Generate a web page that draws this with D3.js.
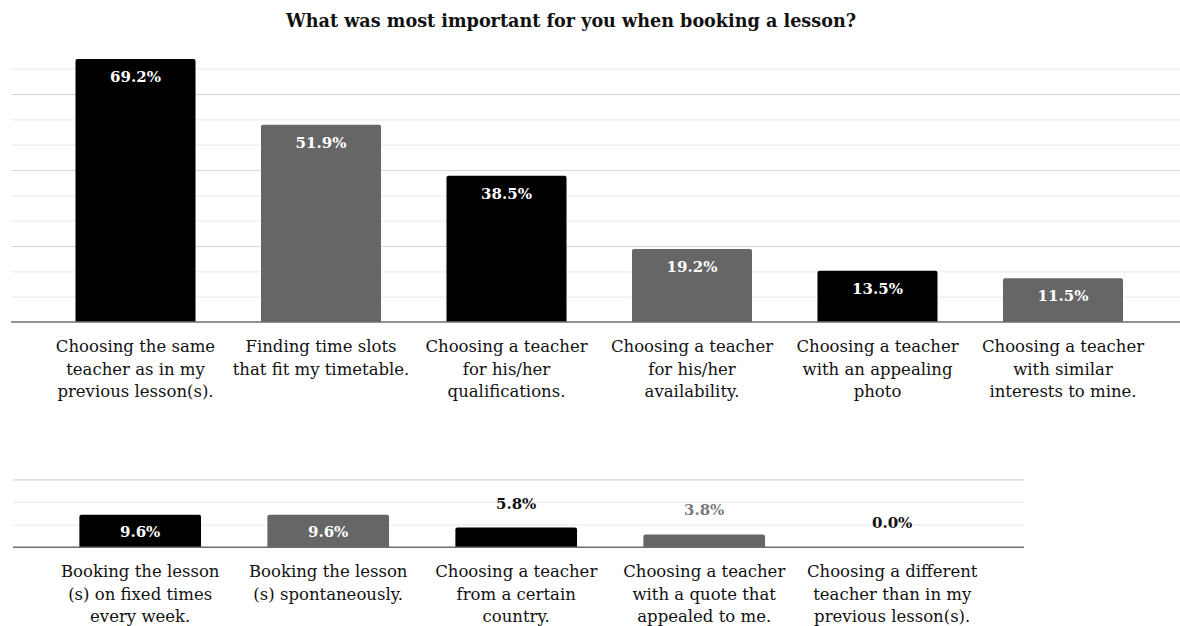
<!DOCTYPE html>
<html>
<head>
<meta charset="utf-8">
<script src="https://cdn.jsdelivr.net/npm/d3@7"></script>
<style>
  html, body { margin: 0; padding: 0; background: #fff; }
  svg { display: block; }
  text { font-family: "DejaVu Serif", Georgia, serif; }
</style>
</head>
<body>
<svg id="chart" width="1180" height="626"></svg>
<script>
// Survey: what mattered most when booking a lesson (share of respondents, %)
const title = "What was most important for you when booking a lesson?";

const topCategories = [
  ["Choosing the same", "teacher as in my", "previous lesson(s)."],
  ["Finding time slots", "that fit my timetable."],
  ["Choosing a teacher", "for his/her", "qualifications."],
  ["Choosing a teacher", "for his/her", "availability."],
  ["Choosing a teacher", "with an appealing", "photo"],
  ["Choosing a teacher", "with similar", "interests to mine."]
];
const topValues = [69.2, 51.9, 38.5, 19.2, 13.5, 11.5];

const bottomCategories = [
  ["Booking the lesson", "(s) on fixed times", "every week."],
  ["Booking the lesson", "(s) spontaneously."],
  ["Choosing a teacher", "from a certain", "country."],
  ["Choosing a teacher", "with a quote that", "appealed to me."],
  ["Choosing a different", "teacher than in my", "previous lesson(s)."]
];
const bottomValues = [9.6, 9.6, 5.8, 3.8, 0.0];

// Gridline levels (percent); multiples of 20 are drawn a little darker
const topGrid = [6.667, 13.333, 20, 26.667, 33.333, 40, 46.667, 53.333, 60, 66.667];
const bottomGrid = [6.667, 13.333, 20];

const barColors = ["#000000", "#666666"];
const outsideLabelColors = ["#111111", "#7a7a7a"];

const svg = d3.select("#chart");

svg.append("text")
  .attr("x", 571)
  .attr("y", 27)
  .attr("text-anchor", "middle")
  .style("font-size", "17.6px")
  .style("font-weight", "bold")
  .style("fill", "#111")
  .text(title);

function panel(cfg) {
  const g = svg.append("g");
  const keys = cfg.categories.map((d, i) => i);

  const x = d3.scaleBand()
    .domain(keys)
    .range(cfg.bandRange)
    .paddingInner(cfg.padInner)
    .paddingOuter(cfg.padInner / 2);

  const y = d3.scaleLinear()
    .domain([0, cfg.yMax])
    .range([cfg.baseline, cfg.baseline - cfg.yMax * cfg.pxPerUnit]);

  // horizontal gridlines
  const grid = g.append("g")
    .attr("transform", `translate(${cfg.gridLeft},0)`)
    .call(d3.axisLeft(y)
      .tickValues(cfg.grid)
      .tickSize(-(cfg.gridRight - cfg.gridLeft))
      .tickFormat(""));
  grid.select(".domain").remove();
  grid.selectAll(".tick line")
    .attr("stroke", d => (Math.abs(d % 20) < 0.01 ? "#d6d6d6" : "#ececec"))
    .attr("stroke-width", 1.2);

  // bars (rounded top corners)
  const r = 2;
  g.selectAll("path.bar")
    .data(cfg.values)
    .join("path")
    .attr("class", "bar")
    .attr("fill", (d, i) => barColors[i % 2])
    .attr("d", (d, i) => {
      const x0 = x(i), w = x.bandwidth();
      const y0 = y(d), yb = y(0);
      if (yb - y0 <= 0) return "";
      const rr = Math.min(r, (yb - y0) / 2);
      return `M${x0},${yb} V${y0 + rr} Q${x0},${y0} ${x0 + rr},${y0} ` +
             `H${x0 + w - rr} Q${x0 + w},${y0} ${x0 + w},${y0 + rr} V${yb} Z`;
    });

  // value labels: inside tall bars, above short ones
  g.selectAll("text.value")
    .data(cfg.values)
    .join("text")
    .attr("class", "value")
    .attr("x", (d, i) => x(i) + x.bandwidth() / 2)
    .attr("y", d => (y(0) - y(d) > 30 ? y(d) + cfg.insideOffset : y(d) - 19))
    .attr("text-anchor", "middle")
    .style("font-size", "15px")
    .style("font-weight", "bold")
    .style("fill", (d, i) => (y(0) - y(d) > 30 ? "#ffffff" : outsideLabelColors[i % 2]))
    .text(d => d.toFixed(1) + "%");

  // baseline axis with wrapped category labels
  const axis = g.append("g")
    .attr("transform", `translate(0,${cfg.baseline})`)
    .call(d3.axisBottom(x).tickSize(0).tickFormat(""));
  axis.select(".domain").remove();
  g.append("line")
    .attr("x1", cfg.gridLeft).attr("x2", cfg.gridRight)
    .attr("y1", cfg.baseline).attr("y2", cfg.baseline)
    .attr("stroke", "#6e6e6e").attr("stroke-width", 1.5);

  axis.selectAll(".tick").each(function (i) {
    const t = d3.select(this).append("text")
      .attr("text-anchor", "middle")
      .attr("y", 30)
      .style("font-size", "16.5px")
      .style("fill", "#111");
    cfg.categories[i].forEach((line, k) => {
      t.append("tspan").attr("x", 0).attr("y", 30 + k * 22.5).text(line);
    });
  });
}

panel({
  categories: topCategories,
  values: topValues,
  grid: topGrid,
  yMax: 70,
  baseline: 322,
  pxPerUnit: 3.8,
  bandRange: [42.75, 1155.75],
  padInner: 0.353,
  gridLeft: 11,
  gridRight: 1180,
  insideOffset: 23
});

panel({
  categories: bottomCategories,
  values: bottomValues,
  grid: bottomGrid,
  yMax: 20,
  baseline: 547.3,
  pxPerUnit: 3.4,
  bandRange: [46.2, 986.2],
  padInner: 0.353,
  gridLeft: 13,
  gridRight: 1024,
  insideOffset: 22
});
</script>
</body>
</html>
